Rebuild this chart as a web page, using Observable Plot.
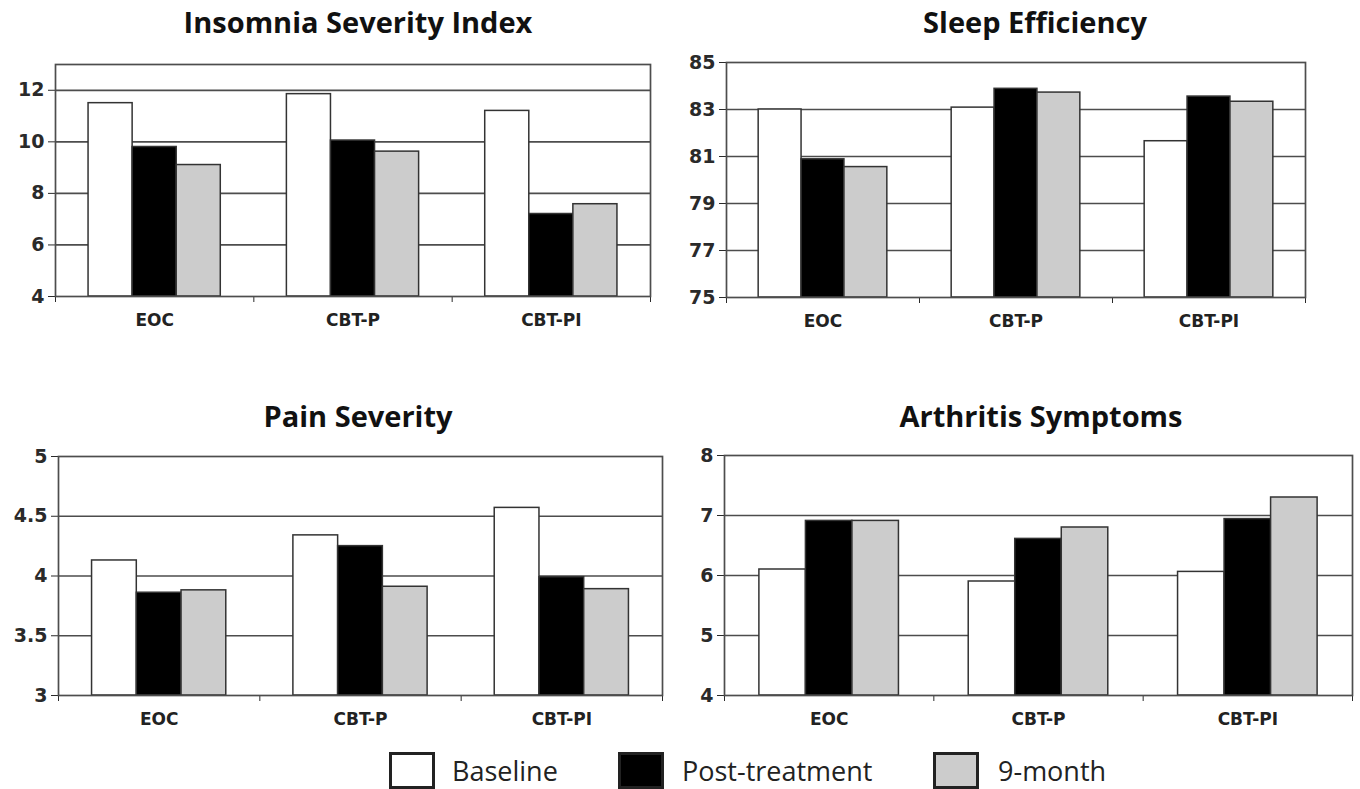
<!DOCTYPE html>
<html>
<head>
<meta charset="utf-8">
<script src="https://cdn.jsdelivr.net/npm/d3@7"></script>
<script src="https://cdn.jsdelivr.net/npm/@observablehq/plot@0.6"></script>
<style>
  html, body { margin: 0; padding: 0; background: #fff; }
  #wrap { position: relative; width: 1360px; height: 789px; overflow: hidden; background: #fff; }
  .panel { position: absolute; }
  .title { position: absolute; font-family: "Open Sans", Lato, sans-serif; font-weight: 700; font-size: 29px; line-height: 29px; color: #111; white-space: nowrap; transform: translateX(-50%); }
  .swatch { position: absolute; box-sizing: border-box; border: 3px solid #222; }
  .legtext { position: absolute; font-family: "Open Sans", sans-serif; font-size: 27px; line-height: 27px; color: #222; white-space: nowrap; }
</style>
</head>
<body>
<div id="wrap"></div>
<script>
// ---- data ----
const groups = ["EOC", "CBT-P", "CBT-PI"];
const seriesNames = ["Baseline", "Post-treatment", "9-month"];
const seriesFills = ["#ffffff", "#000000", "#cccccc"];

const insomniaBaseline = [11.5, 11.85, 11.2];
const insomniaPost = [9.8, 10.05, 7.2];
const insomnia9m = [9.1, 9.62, 7.58];
const insomniaTicks = [4, 6, 8, 10, 12];

const sleepBaseline = [83.0, 83.08, 81.65];
const sleepPost = [80.88, 83.88, 83.55];
const sleep9m = [80.55, 83.72, 83.33];
const sleepTicks = [75, 77, 79, 81, 83, 85];

const painBaseline = [4.13, 4.34, 4.57];
const painPost = [3.86, 4.25, 3.99];
const pain9m = [3.88, 3.91, 3.89];
const painTicks = [3, 3.5, 4, 4.5, 5];

const arthBaseline = [6.1, 5.9, 6.06];
const arthPost = [6.91, 6.61, 6.94];
const arth9m = [6.91, 6.8, 7.3];
const arthTicks = [4, 5, 6, 7, 8];

// ---- layout ----
const panels = [
  {title: "Insomnia Severity Index", values: [insomniaBaseline, insomniaPost, insomnia9m], domain: [4, 13], ticks: insomniaTicks,
   left: 0, top: 40, width: 680, height: 310, mt: 24, mr: 30, mb: 54, ml: 55, titleX: 358, titleTop: 7},
  {title: "Sleep Efficiency", values: [sleepBaseline, sleepPost, sleep9m], domain: [75, 85], ticks: sleepTicks,
   left: 680, top: 40, width: 680, height: 310, mt: 22, mr: 55, mb: 53, ml: 46, titleX: 1035, titleTop: 7},
  {title: "Pain Severity", values: [painBaseline, painPost, pain9m], domain: [3, 5], ticks: painTicks,
   left: 0, top: 430, width: 680, height: 310, mt: 26, mr: 18, mb: 45, ml: 58, titleX: 358, titleTop: 401},
  {title: "Arthritis Symptoms", values: [arthBaseline, arthPost, arth9m], domain: [4, 8], ticks: arthTicks,
   left: 680, top: 430, width: 680, height: 310, mt: 25, mr: 8, mb: 45, ml: 44, titleX: 1041, titleTop: 401}
];

const wrap = document.getElementById("wrap");
const groupInset = 1 / 6;      // gap before the first bar of a group (in group units)
const barUnits = 2 / 9;        // width of one bar (in group units)

for (const p of panels) {
  const rows = groups.flatMap((g, gi) => seriesNames.map((s, si) => ({
    group: g, gi, series: s, si, value: p.values[si][gi]
  })));
  const grid = p.ticks.filter(t => t > p.domain[0] && t < p.domain[1]);
  const chart = Plot.plot({
    width: p.width,
    height: p.height,
    marginTop: p.mt, marginRight: p.mr, marginBottom: p.mb, marginLeft: p.ml,
    style: {fontFamily: "'DejaVu Sans', 'Liberation Sans', Arial, sans-serif", fontSize: "19px", fontWeight: "bold", color: "#2a2a2a", background: "transparent", overflow: "visible"},
    x: {domain: [0, groups.length], ticks: d3.range(groups.length + 1), tickFormat: () => "", tickSize: 6, label: null},
    y: {domain: p.domain, ticks: p.ticks, tickSize: 7, tickPadding: 4, label: null, tickFormat: d => String(d)},
    color: {domain: seriesNames, range: seriesFills},
    marks: [
      Plot.ruleY(grid, {stroke: "#4d4d4d", strokeWidth: 1.7}),
      Plot.rect(rows, {
        x1: d => d.gi + groupInset + d.si * barUnits,
        x2: d => d.gi + groupInset + (d.si + 1) * barUnits,
        y1: p.domain[0],
        y2: "value",
        fill: "series",
        stroke: "#333",
        strokeWidth: 1.5
      }),
      Plot.frame({stroke: "#4d4d4d", strokeWidth: 1.7}),
      Plot.text(groups, {x: (d, i) => i + 0.5, frameAnchor: "bottom", dy: 29, text: d => d, fontSize: 17, fontWeight: "bold", fill: "#222"})
    ]
  });
  const holder = document.createElement("div");
  holder.className = "panel";
  holder.style.left = p.left + "px";
  holder.style.top = p.top + "px";
  holder.appendChild(chart);
  wrap.appendChild(holder);

  const t = document.createElement("div");
  t.className = "title";
  t.style.left = p.titleX + "px";
  t.style.top = p.titleTop + "px";
  t.textContent = p.title;
  wrap.appendChild(t);
}

// ---- legend ----
const legendSwatchX = [389, 618, 933];
const legendTextX = [452, 682, 998];
seriesNames.forEach((name, i) => {
  const sw = document.createElement("div");
  sw.className = "swatch";
  sw.style.left = legendSwatchX[i] + "px";
  sw.style.top = "752px";
  sw.style.width = "46px";
  sw.style.height = "37px";
  sw.style.background = seriesFills[i];
  wrap.appendChild(sw);
  const tx = document.createElement("div");
  tx.className = "legtext";
  tx.style.left = legendTextX[i] + "px";
  tx.style.top = "757px";
  tx.textContent = name;
  wrap.appendChild(tx);
});
</script>
</body>
</html>
